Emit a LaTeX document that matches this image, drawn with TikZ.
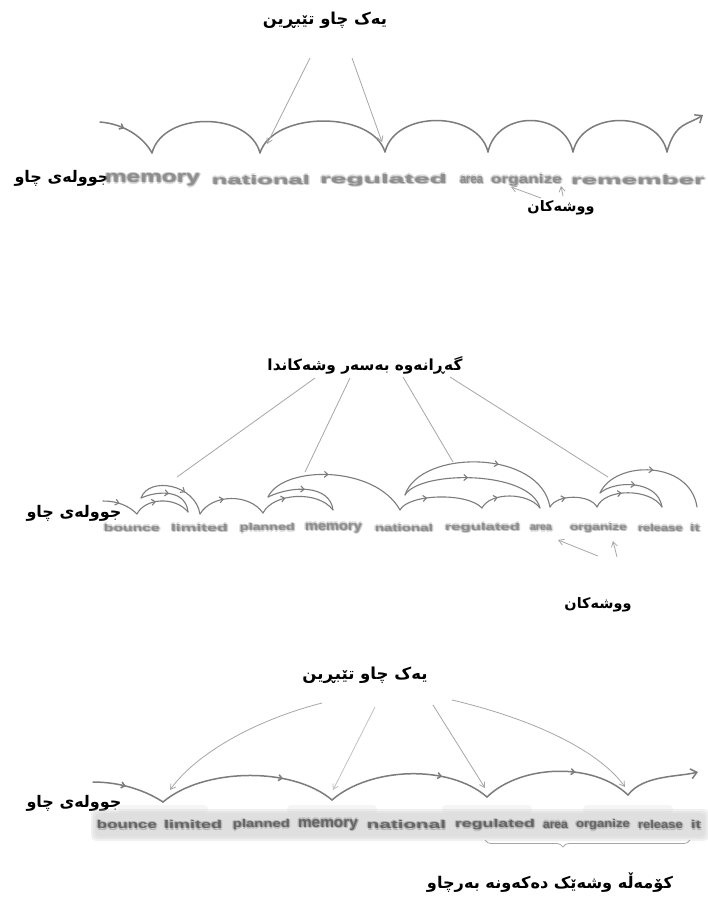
\documentclass[tikz,border=0pt]{standalone}
\usepackage{fontspec}
\setmainfont{Liberation Sans}
\newfontfamily\kurd[Script=Arabic]{DejaVu Sans}
\TeXXeTstate=1
\usetikzlibrary{arrows.meta,decorations.markings,decorations.pathreplacing}

\definecolor{inkgray}{HTML}{7C7C7C}
\definecolor{pointgray}{HTML}{A6A6A6}
\definecolor{wordgray}{HTML}{8E8E8E}
\definecolor{hazegray}{HTML}{CFCFCF}

\tikzset{
  saccade/.style={draw=inkgray, line width=1.5pt, line cap=round},
  thin saccade/.style={saccade, line width=1.1pt},
  fwd/.style={postaction={decorate, decoration={markings,
      mark=at position #1 with {\arrow{Straight Barb[length=3.5pt,width=6pt]}}}}},
  fwd/.default=0.5,
  bwd/.style={postaction={decorate, decoration={markings,
      mark=at position #1 with {\arrowreversed{Straight Barb[length=3.5pt,width=6pt]}}}}},
  bwd/.default=0.5,
  endtip/.style={-{Straight Barb[length=6pt,width=10pt]}},
  pointer/.style={draw=pointgray, line width=0.8pt},
  pointtip/.style={pointer, -{Straight Barb[length=5pt,width=6pt]}},
  kurdlabel/.style={inner sep=0pt, text=black},
  wordhaze/.style={inner sep=0pt, text=wordgray, text opacity=0.28, font=\bfseries},
  wordcore/.style={inner sep=0pt, text=wordgray, font=\bfseries},
}

% a blurred printed word: name, left x, right x, y, height, text
\newcommand\smudgeword[6]{%
  \pgfmathsetmacro\smw{#3-#2}%
  \pgfmathsetmacro\smx{(#2+#3)/2}%
  \foreach \ox/\oy in {-1.5/0,1.5/0,0/-1.5,0/1.5,-1.1/-1.1,1.1/1.1}{%
    \node[wordhaze] at (\smx+\ox,#4+\oy) {\resizebox{\smw pt}{#5pt}{#6}};
  }%
  \node[wordcore] (#1) at (\smx,#4) {\resizebox{\smw pt}{#5pt}{#6}};%
}
% a Kurdish caption fitted to a given width
\newcommand\kurdtext[2]{\resizebox{#1pt}{!}{\kurd\bfseries #2}}

\begin{document}
\begin{tikzpicture}[x=1pt, y=-1pt]
\useasboundingbox[fill=white] (0,0) rectangle (708,898);

% ================= first panel: forward fixations =================
\node[kurdlabel] (s1title) at (325,20) {\kurdtext{124}{\beginR یەک چاو تێبڕین\endR}};
\node[kurdlabel] (s1eye) at (62,178) {\kurdtext{95}{\beginR جوولەی چاو\endR}};
\node[kurdlabel] (s1words) at (561,208) {\kurdtext{67}{\beginR ووشەکان\endR}};

\smudgeword{r1a}{105}{200}{180}{9}{memory}
\smudgeword{r1b}{212}{310}{180}{9}{national}
\smudgeword{r1c}{320}{447}{180}{9}{regulated}
\smudgeword{r1d}{460}{483}{180}{7}{area}
\smudgeword{r1e}{491}{562}{180}{9}{organize}
\smudgeword{r1f}{571}{705}{180}{9}{remember}

\coordinate (a0) at (100,122);
\coordinate (v1) at (152,153);
\coordinate (v2) at (260,153);
\coordinate (v3) at (385,152);
\coordinate (v4) at (488,152);
\coordinate (v5) at (573,152);
\coordinate (v6) at (667,152);
\coordinate (aend) at (703,115);

\draw[saccade, fwd=0.4] (a0) .. controls +(25,2) and +(-8,-15) .. (v1);
\draw[saccade] (v1) .. controls +(11,-42) and +(-11,-42) .. (v2);
\draw[saccade] (v2) .. controls +(13,-42) and +(-13,-42) .. (v3);
\draw[saccade] (v3) .. controls +(10,-42) and +(-10,-42) .. (v4);
\draw[saccade] (v4) .. controls +(9,-42) and +(-9,-42) .. (v5);
\draw[saccade] (v5) .. controls +(9,-42) and +(-9,-42) .. (v6);
\draw[saccade, endtip] (v6) .. controls +(8,-30) and +(-15,10) .. (aend);

\coordinate (p1a) at (310,58);
\coordinate (p1b) at (267,144);
\coordinate (p2a) at (352,58);
\coordinate (p2b) at (382,142);
\draw[pointtip] (p1a) -- (p1b);
\draw[pointtip] (p2a) -- (p2b);

\coordinate (w1a) at (541,198);
\coordinate (w1b) at (511,187);
\coordinate (w2a) at (563,196);
\coordinate (w2b) at (561,186);
\draw[pointtip] (w1a) -- (w1b);
\draw[pointtip] (w2a) -- (w2b);

% ================= second panel: regressions =================
\node[kurdlabel] (s2title) at (365,365) {\kurdtext{195}{\beginR گەڕانەوە بەسەر وشەکاندا\endR}};
\node[kurdlabel] (s2eye) at (74,513) {\kurdtext{95}{\beginR جوولەی چاو\endR}};
\node[kurdlabel] (s2words) at (598,605) {\kurdtext{67}{\beginR ووشەکان\endR}};

\smudgeword{r2a}{104}{160}{528}{7}{bounce}
\smudgeword{r2b}{171}{228}{528}{7}{limited}
\smudgeword{r2c}{240}{295}{528}{7}{planned}
\smudgeword{r2d}{305}{362}{528}{7}{memory}
\smudgeword{r2e}{375}{433}{528}{7}{national}
\smudgeword{r2f}{445}{520}{528}{7}{regulated}
\smudgeword{r2g}{530}{552}{528}{5.5}{area}
\smudgeword{r2h}{570}{627}{528}{7}{organize}
\smudgeword{r2i}{638}{683}{528}{7}{release}
\smudgeword{r2j}{690}{700}{528}{7}{it}

\coordinate (q0) at (103,501);
\coordinate (c1v) at (137,514);
\coordinate (c1t) at (141,498);
\coordinate (c1r) at (188,512);
\coordinate (c1e) at (200,514);
\coordinate (c2v) at (263,513);
\coordinate (c2t) at (268,497);
\coordinate (c2r) at (333,510);
\coordinate (c3v) at (400,510);
\coordinate (c3t) at (405,495);
\coordinate (c3m) at (482,508);
\coordinate (c3r) at (540,508);
\coordinate (c4v) at (550,507);
\coordinate (c5v) at (597,507);
\coordinate (c5t) at (600,493);
\coordinate (c5r) at (662,507);
\coordinate (c5e) at (697,507);

\draw[thin saccade, fwd=0.45] (q0) .. controls +(15,0) and +(-8,-8) .. (c1v);
% first regression
\draw[thin saccade, fwd=0.4] (c1v) .. controls +(8,-16) and +(-13,-16) .. (c1r);
\draw[thin saccade, bwd=0.5] (c1r) .. controls +(-2,-22) and +(18,-8) .. (c1t);
\draw[thin saccade, fwd=0.65] (c1t) .. controls +(8,-22) and +(-5,-30) .. (c1e);
\draw[thin saccade, fwd=0.4] (c1e) .. controls +(12,-20) and +(-14,-20) .. (c2v);
% second regression
\draw[thin saccade, fwd=0.35] (c2v) .. controls +(10,-20) and +(-15,-20) .. (c2r);
\draw[thin saccade, bwd=0.5] (c2r) .. controls +(-3,-25) and +(25,-12) .. (c2t);
\draw[thin saccade, fwd=0.45] (c2t) .. controls +(15,-32) and +(-25,-45) .. (c3v);
% third regression
\draw[thin saccade, fwd=0.35] (c3v) .. controls +(8,-16) and +(-15,-16) .. (c3m);
\draw[thin saccade, fwd=0.3] (c3m) .. controls +(8,-16) and +(-12,-16) .. (c3r);
\draw[thin saccade, bwd=0.55] (c3r) .. controls +(-10,-38) and +(15,-25) .. (c3t);
\draw[thin saccade, fwd=0.6] (c3t) .. controls +(15,-46) and +(-10,-58) .. (c4v);
\draw[thin saccade, fwd=0.35] (c4v) .. controls +(7,-13) and +(-7,-13) .. (c5v);
% fourth regression
\draw[thin saccade, fwd=0.4] (c5v) .. controls +(8,-19) and +(-12,-19) .. (c5r);
\draw[thin saccade, bwd=0.5] (c5r) .. controls +(-4,-27) and +(15,-13) .. (c5t);
\draw[thin saccade, fwd=0.5] (c5t) .. controls +(15,-33) and +(-7,-47) .. (c5e);

\coordinate (g1a) at (315,378);
\coordinate (g1b) at (177,477);
\coordinate (g2a) at (350,378);
\coordinate (g2b) at (305,472);
\coordinate (g3a) at (403,377);
\coordinate (g3b) at (453,462);
\coordinate (g4a) at (450,377);
\coordinate (g4b) at (608,477);
\draw[pointer] (g1a) -- (g1b);
\draw[pointer] (g2a) -- (g2b);
\draw[pointer] (g3a) -- (g3b);
\draw[pointer] (g4a) -- (g4b);

\coordinate (x1a) at (598,556);
\coordinate (x1b) at (558,540);
\coordinate (x2a) at (617,557);
\coordinate (x2b) at (613,541);
\draw[pointtip] (x1a) -- (x1b);
\draw[pointtip] (x2a) -- (x2b);

% ================= third panel: word groups =================
\node[kurdlabel] (s3title) at (365,675) {\kurdtext{125}{\beginR یەک چاو تێبڕین\endR}};
\node[kurdlabel] (s3eye) at (74,803) {\kurdtext{95}{\beginR جوولەی چاو\endR}};
\node[kurdlabel] (s3group) at (550,883) {\kurdtext{246}{\beginR کۆمەڵە وشەێک دەکەونە بەرچاو\endR}};

% shaded band behind the printed line
\foreach \g in {0,2,4}{
  \fill[hazegray, opacity=0.3, rounded corners=5pt] (95-\g,813-\g) rectangle (705+\g,837+\g);
}
\foreach \fx in {163,332,487,628}{
  \fill[hazegray, opacity=0.2, rounded corners=4pt] (\fx-45,805) rectangle (\fx+45,813);
}

\begin{scope}[wordcore/.append style={text=black!60}, wordhaze/.append style={text=black!50}]
\smudgeword{r3a}{97}{157}{825}{8}{bounce}
\smudgeword{r3b}{164}{222}{825}{8}{limited}
\smudgeword{r3c}{233}{290}{825}{8}{planned}
\smudgeword{r3d}{298}{358}{825}{8}{memory}
\smudgeword{r3e}{367}{446}{825}{8}{national}
\smudgeword{r3f}{455}{535}{825}{8}{regulated}
\smudgeword{r3g}{543}{568}{825}{6.5}{area}
\smudgeword{r3h}{576}{630}{825}{8}{organize}
\smudgeword{r3i}{638}{683}{825}{8}{release}
\smudgeword{r3j}{691}{701}{825}{8}{it}
\end{scope}

\coordinate (b0) at (93,782);
\coordinate (u1) at (163,802);
\coordinate (u2) at (332,800);
\coordinate (u3) at (487,797);
\coordinate (u4) at (628,795);
\coordinate (bend) at (698,772);

\draw[saccade, fwd=0.45] (b0) .. controls +(30,0) and +(-15,-10) .. (u1);
\draw[saccade, fwd=0.7] (u1) .. controls +(40,-34) and +(-40,-34) .. (u2);
\draw[saccade, fwd=0.7] (u2) .. controls +(38,-33) and +(-38,-33) .. (u3);
\draw[saccade, fwd=0.62] (u3) .. controls +(34,-33) and +(-34,-33) .. (u4);
\draw[saccade, endtip] (u4) .. controls +(15,-20) and +(-20,5) .. (bend);

\coordinate (h1a) at (322,703);
\coordinate (h1b) at (170,790);
\coordinate (h2a) at (375,707);
\coordinate (h2b) at (333,790);
\coordinate (h3a) at (433,705);
\coordinate (h3b) at (485,788);
\coordinate (h4a) at (452,700);
\coordinate (h4b) at (625,787);
\draw[pointtip] (h1a) .. controls +(-70,18) and +(25,-35) .. (h1b);
\draw[pointtip, draw=pointgray!70] (h2a) -- (h2b);
\draw[pointtip] (h3a) -- (h3b);
\draw[pointtip] (h4a) .. controls +(85,20) and +(-25,-35) .. (h4b);

\coordinate (br1) at (485,840);
\coordinate (br2) at (690,840);
\draw[pointer, decorate, decoration={brace, mirror, amplitude=7pt, aspect=0.38}] (br1) -- (br2);
\end{tikzpicture}
\end{document}
